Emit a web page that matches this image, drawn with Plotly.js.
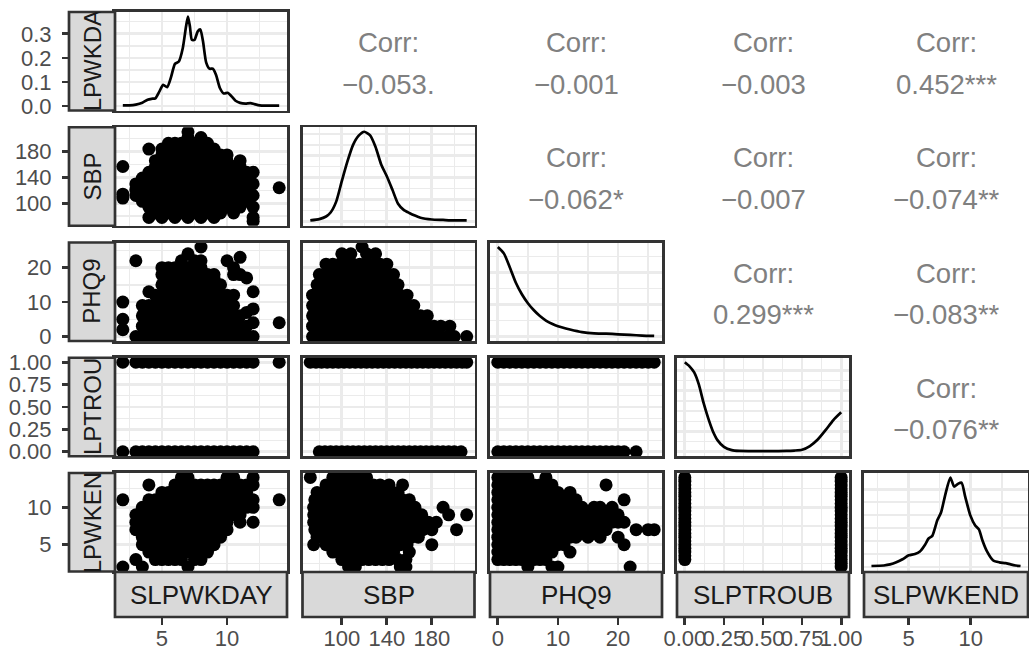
<!DOCTYPE html>
<html><head><meta charset="utf-8">
<script src="https://cdn.plot.ly/plotly-3.0.1.min.js"></script>
<style>html,body{margin:0;padding:0;background:#fff;overflow:hidden}#chart{width:1029px;height:651px}</style>
</head><body><div id="chart"></div><script>
// ---------- data ----------
const varNames = ['SLPWKDAY','SBP','PHQ9','SLPTROUB','SLPWKEND'];
const varMin = [2, 72, 0, 0, 2];
const varMax = [14, 211, 26, 1, 14];
const varMajor = [[5,10],[100,140,180],[0,10,20],[0,0.25,0.5,0.75,1],[5,10]];
const varMinor = [[2.5,7.5,12.5],[80,120,160,200],[5,15,25],[0.125,0.375,0.625,0.875],[2.5,7.5,12.5]];
const varTickText = [['5','10'],['100','140','180'],['0','10','20'],['0.00','0.25','0.50','0.75','1.00'],['5','10']];
const densRow1TickText = ['0.0','0.1','0.2','0.3'];

// diagonal densities
const densWkdayX = [2,2.5,3,3.5,3.9,4.2,4.5,4.8,5.1,5.4,5.7,6.0,6.3,6.6,6.85,7.0,7.15,7.3,7.5,7.75,7.95,8.15,8.4,8.65,8.9,9.15,9.45,9.75,10.05,10.35,10.65,11,11.4,11.8,12.1,12.5,13,13.5,14];
const densWkdayY = [0.003,0.003,0.006,0.014,0.026,0.03,0.032,0.06,0.088,0.078,0.12,0.175,0.185,0.24,0.33,0.372,0.33,0.275,0.275,0.31,0.318,0.27,0.18,0.155,0.155,0.13,0.075,0.052,0.055,0.04,0.022,0.013,0.01,0.012,0.008,0.003,0.002,0.002,0.002];
const densSbpX = [72,80,86,90,95,100,105,110,115,120,125,130,135,140,145,150,155,160,165,170,180,190,200,211];
const densSbpY = [0.0002,0.0005,0.0011,0.002,0.0045,0.0092,0.0137,0.0175,0.0196,0.0205,0.0197,0.017,0.013,0.0103,0.0072,0.004,0.0026,0.0019,0.0013,0.0008,0.0004,0.0003,0.0002,0.0002];
const densPhqX = [0,1,2,3,4,5,6,7,8,9,10,12,14,16,18,20,22,24,26];
const densPhqY = [0.14,0.13,0.108,0.084,0.066,0.052,0.041,0.032,0.025,0.02,0.016,0.011,0.007,0.005,0.0045,0.0035,0.0025,0.0015,0.001];
const densTroubX = [0,0.03,0.06,0.09,0.12,0.15,0.18,0.21,0.25,0.3,0.35,0.45,0.55,0.65,0.7,0.75,0.8,0.85,0.9,0.95,1];
const densTroubY = [2.2,2.1,1.95,1.65,1.2,0.82,0.5,0.28,0.12,0.04,0.02,0.015,0.015,0.02,0.03,0.05,0.14,0.3,0.53,0.78,0.97];
const densWkendX = [2,3,3.5,4,4.5,5,5.5,5.9,6.3,6.6,6.9,7.3,7.6,7.95,8.35,8.65,8.95,9.25,9.55,9.95,10.35,10.65,10.95,11.3,11.8,12.3,12.8,13.2,13.6,14];
const densWkendY = [0.004,0.006,0.01,0.018,0.03,0.045,0.05,0.06,0.085,0.11,0.12,0.18,0.21,0.28,0.345,0.31,0.32,0.325,0.27,0.2,0.16,0.145,0.1,0.06,0.025,0.018,0.015,0.01,0.006,0.004];
const densMajor = [[0,0.1,0.2,0.3],[0,0.005,0.01,0.015,0.02],[0,0.05,0.1],[0,0.5,1,1.5,2],[0,0.1,0.2,0.3]];
const densMinor = [[0.05,0.15,0.25,0.35],[0.0025,0.0075,0.0125,0.0175],[0.025,0.075,0.125],[0.25,0.75,1.25,1.75],[0.05,0.15,0.25]];

// correlations (upper panels)
const corrLabel = 'Corr:';
const corrRow1 = ['\u22120.053.','\u22120.001','\u22120.003','0.452***'];
const corrRow2 = ['\u22120.062*','\u22120.007','\u22120.074**'];
const corrRow3 = ['0.299***','\u22120.083**'];
const corrRow4 = ['\u22120.076**'];

// lower scatter panels: rows of [y, [x values]]
const sbpVsWkday = [[211,[7]],[202,[7,8]],[193,[5.5,6,6.5,7.5,8.5]],[184,[4,5,6,7,8,9]],[175,[5,5.5,6.5,7.5,8.5,9.5,10]],[166,[4.5,5,6,7,8,9,10,11]],[157,[2,4.5,5.5,6.5,7.5,8.5,9.5,10.5,11]],[148,[4,5,6,7,8,9,10,11,11.5,12]],[139,[3.5,4.5,5.5,6.5,7.5,8.5,9.5,10.5,11.5]],[130,[3,4,5,6,7,8,9,10,11,12]],[124,[14]],[121,[3,3.5,4.5,5.5,6.5,7.5,8.5,9.5,10.5,11.5]],[114,[2]],[112,[3,4,5,6,7,8,9,10,11,12]],[108,[2]],[103,[3.5,4.5,5.5,6.5,7.5,8.5,9.5,10.5,11.5]],[94,[4,5,6,7,8,9,10,11,12]],[85,[4.5,5.5,6.5,7.5,8.5,9.5,10.5]],[78,[4,5,6,7,8,9,12]],[72,[12]]];
const phqVsWkday = [[26,[8]],[24,[7]],[23,[11]],[22,[3,6.5,7.5,8,10]],[20,[5,5.5,6,6.5,7,7.5,8,10.5]],[18,[5,5.5,6,6.5,7,7.5,8,8.5,9,10.5,11]],[17,[9,11.5]],[15,[5,5.5,6,6.5,7,7.5,8,8.5,9,9.5]],[13,[4,12]],[12,[4.5,5,5.5,6,6.5,7,7.5,8,8.5,9,9.5,10,10.5]],[10,[2]],[9,[3.5,4,4.5,5,5.5,6,6.5,7,7.5,8,8.5,9,9.5,10,10.5]],[8,[12]],[7,[11.5]],[6,[3.5,4,4.5,5,5.5,6,6.5,7,7.5,8,8.5,9,9.5,10,10.5,11]],[5,[2]],[4,[12,14]],[3,[3.5,4,4.5,5,5.5,6,6.5,7,7.5,8,8.5,9,9.5,10,10.5,11,11.5]],[2,[2]],[0,[3,3.5,4,4.5,5,5.5,6,6.5,7,7.5,8,8.5,9,9.5,10,10.5,11,11.5,12]]];
const troubVsWkday = [[1,[2,3,3.5,4,4.5,5,5.5,6,6.5,7,7.5,8,8.5,9,9.5,10,10.5,11,11.5,12,14]],[0,[2,3,3.5,4,4.5,5,5.5,6,6.5,7,7.5,8,8.5,9,9.5,10,10.5,11,11.5,12]]];
const wkendVsWkday = [[14,[6.5,7,10,10.5,12]],[13,[4,6,6.5,7,7.5,8,8.5,9,9.5,10,10.5,11,11.5,12]],[12,[5,5.5,6,6.5,7,7.5,8,8.5,9,9.5,10,10.5,11,11.5]],[11,[2,4,4.5,5,5.5,6,6.5,7,7.5,8,8.5,9,9.5,10,10.5,11,11.5,12,14]],[10,[3.5,4,4.5,5,5.5,6,6.5,7,7.5,8,8.5,9,9.5,10,10.5,11,11.5,12]],[9,[3,3.5,4,4.5,5,5.5,6,6.5,7,7.5,8,8.5,9,9.5,10,10.5,11]],[8,[3,3.5,4,4.5,5,5.5,6,6.5,7,7.5,8,8.5,9,9.5,10,11,12]],[7,[3,3.5,4,4.5,5,5.5,6,6.5,7,7.5,8,8.5,9,9.5,10]],[6,[3.5,4,4.5,5,5.5,6,6.5,7,7.5,8,8.5,9,9.5]],[5,[3.5,4,4.5,5,5.5,6,6.5,7,7.5,8,8.5,9]],[4,[4,4.5,5,5.5,6,6.5,7,7.5,8,8.5]],[3,[3,4.5,5,5.5,6,6.5,7.5,8]],[2,[2,3.5,7]]];
const phqVsSbp = [[26,[118]],[24,[100,108,122,130]],[21,[86,92,98,104,110,116,122,128,134,140]],[18,[80,86,92,98,104,110,116,122,128,134,140,146]],[15,[78,84,90,96,102,108,114,120,126,132,138,144,150]],[12,[74,80,86,92,98,104,110,116,122,128,134,140,146,152,158]],[9,[74,80,86,92,98,104,110,116,122,128,134,140,146,152,158,164]],[6,[74,80,86,92,98,104,110,116,122,128,134,140,146,152,158,164,170,176]],[3,[74,80,86,92,98,104,110,116,122,128,134,140,146,152,158,164,170,176,182,188,196]],[0,[74,80,86,92,98,104,110,116,122,128,134,140,146,152,158,164,170,176,182,188,194,200,211]]];
const troubVsSbp = [[1,[72,77,82,87,92,97,102,107,112,117,122,127,132,137,142,147,152,157,162,167,172,177,182,187,192,197,202,207,211]],[0,[80,85,90,95,100,105,110,115,120,125,130,135,140,145,150,155,160,165,170,175,180,185,190,195,200,206]]];
const wkendVsSbp = [[14,[72,92,98,104,110,116,122]],[13,[86,92,98,104,110,116,122,128,134,142,154]],[12,[78,84,90,96,102,108,114,120,126,132,138,144,150]],[11,[76,82,88,94,100,106,112,118,124,130,136,142,148,154,160]],[10,[75,81,87,93,99,105,111,117,123,129,135,141,147,153,159,165,190]],[9,[75,81,87,93,99,105,111,117,123,129,135,141,147,153,159,165,171,195,211]],[8,[75,81,87,93,99,105,111,117,123,129,135,141,147,153,159,165,171,177,184]],[7,[76,82,88,94,100,106,112,118,124,130,136,142,148,154,160,166,172,180,202]],[6,[78,84,90,96,102,108,114,120,126,132,138,144,150,156,162,168]],[5,[75,86,92,98,104,110,116,122,128,134,140,146,152,158,180]],[4,[92,98,104,110,116,122,128,134,140,146,160]],[3,[100,106,112,118,124,130,136,142,150,157]],[2,[106,112,152,157]]];
const troubVsPhq = [[1,[0,1,2,3,4,5,6,7,8,9,10,11,12,13,14,15,16,17,18,19,20,21,22,23,24,25,26]],[0,[0,1,2,3,4,5,6,7,8,9,10,11,12,13,14,15,16,17,18,19,20,21,23]]];
const wkendVsPhq = [[14,[0,1,2,3,4,5,8]],[13,[0,1,2,3,4,5,6,7,9,18]],[12,[0,1,2,3,4,5,6,7,8,9,10,12]],[11,[0,1,2,3,4,5,6,7,8,9,10,11,12,13,21]],[10,[0,1,2,3,4,5,6,7,8,9,10,11,12,13,14,16,17,19]],[9,[0,1,2,3,4,5,6,7,8,9,10,11,12,13,14,15,16,18,20]],[8,[0,1,2,3,4,5,6,7,8,9,10,11,12,13,14,15,16,17,19,20,21]],[7,[0,1,2,3,4,5,6,7,8,9,10,11,12,13,14,15,16,18,23,25,26]],[6,[0,1,2,3,4,5,6,7,8,9,10,11,12,13,15,17,20]],[5,[0,1,2,3,4,5,6,7,8,9,10,11,21]],[4,[0,1,2,3,4,5,6,7,8,9,12]],[3,[0,1,2,3,4,5,6,7,8]],[2,[5,9,10,22]]];
const wkendVsTroub = [[14,[0,1]],[13.5,[0,1]],[13,[0,1]],[12.5,[0,1]],[12,[0,1]],[11.5,[0,1]],[11,[0,1]],[10.5,[0,1]],[10,[0,1]],[9.5,[0,1]],[9,[0,1]],[8.5,[0,1]],[8,[0,1]],[7.5,[0,1]],[7,[0,1]],[6.5,[0,1]],[6,[0,1]],[5.5,[0,1]],[5,[0,1]],[4.5,[0,1]],[4,[0,1]],[3.5,[0,1]],[3,[0,1]],[2.5,[1]],[2,[1]]];

// ---------- layout geometry ----------
const W = 1029, H = 651;
const colLeft = [115, 302.5, 490, 677, 864], colRight = [287, 474.5, 662, 849, 1028];
const rowTop = [12, 127.25, 242.5, 357.75, 473], rowH = 98.5;
const stripL = 69, stripR = 115, stripTop = 572, stripBot = 617;
const FONT = 'Liberation Sans, Arial, Helvetica, sans-serif';

const dens = [{x:densWkdayX,y:densWkdayY},{x:densSbpX,y:densSbpY},{x:densPhqX,y:densPhqY},{x:densTroubX,y:densTroubY},{x:densWkendX,y:densWkendY}];
const scatterRows = {'1_0':sbpVsWkday,'2_0':phqVsWkday,'3_0':troubVsWkday,'4_0':wkendVsWkday,'2_1':phqVsSbp,'3_1':troubVsSbp,'4_1':wkendVsSbp,'3_2':troubVsPhq,'4_2':wkendVsPhq,'4_3':wkendVsTroub};
const corrRows = [corrRow1, corrRow2, corrRow3, corrRow4];

function xd(c){return [colLeft[c]/W, colRight[c]/W];}
function yd(r){return [1-(rowTop[r]+rowH)/H, 1-rowTop[r]/H];}
function vr(i){const s=varMax[i]-varMin[i];return [varMin[i]-0.05*s, varMax[i]+0.05*s];}
function flat(rows){const x=[],y=[];rows.forEach(([yv,xs])=>xs.forEach(xv=>{x.push(xv);y.push(yv);}));return {x,y};}

const traces = [];
const layout = {width:W,height:H,margin:{l:0,r:0,t:0,b:0},paper_bgcolor:'#ffffff',plot_bgcolor:'rgba(0,0,0,0)',
  showlegend:false,hovermode:false,shapes:[],annotations:[]};
const gridBase = {showgrid:true,gridcolor:'#EBEBEB',gridwidth:2.7,zeroline:false,showline:true,mirror:true,
  linecolor:'#333333',linewidth:2.7,ticks:'',showticklabels:false,tickmode:'array',fixedrange:true};
function minorOf(v){return {tickvals:v,showgrid:true,gridcolor:'#EBEBEB',gridwidth:1.35,ticks:''};}

let k = 0; const pid = {};
for (let r=0;r<5;r++) for (let c=0;c<=r;c++) {
  k++; pid[r+'_'+c]=k;
  const xn = k===1?'xaxis':'xaxis'+k, yn = k===1?'yaxis':'yaxis'+k;
  const xs = k===1?'x':'x'+k, ys = k===1?'y':'y'+k;
  layout[xn] = Object.assign({}, gridBase, {domain:xd(c), range:vr(c), tickvals:varMajor[c], minor:minorOf(varMinor[c]), anchor:ys});
  if (r===c) {
    const d = dens[c]; const m = Math.max(...d.y);
    layout[yn] = Object.assign({}, gridBase, {domain:yd(r), range:[-0.05*m,1.05*m], tickvals:densMajor[c], minor:minorOf(densMinor[c]), anchor:xs});
    traces.push({type:'scatter',mode:'lines',x:d.x,y:d.y,xaxis:xs,yaxis:ys,line:{color:'#000000',width:2.7,shape:'spline',smoothing:0.6},hoverinfo:'skip'});
  } else {
    layout[yn] = Object.assign({}, gridBase, {domain:yd(r), range:vr(r), tickvals:varMajor[r], minor:minorOf(varMinor[r]), anchor:xs});
    const p = flat(scatterRows[r+'_'+c]);
    traces.push({type:'scatter',mode:'markers',x:p.x,y:p.y,xaxis:xs,yaxis:ys,marker:{size:13,color:'#000000',line:{width:0}},cliponaxis:true,hoverinfo:'skip'});
  }
}
// outer tick axes (left, beyond the strips; bottom, below the strips)
const tickStyle = {showgrid:false,zeroline:false,showline:false,ticks:'outside',ticklen:7,tickwidth:2.7,tickcolor:'#333333',
  tickfont:{family:FONT,size:22,color:'#4D4D4D'},tickmode:'array',fixedrange:true,tickangle:0};
for (let r=0;r<5;r++) {
  const base = pid[r+'_0'], baseY = base===1?'y':'y'+base, baseX = base===1?'x':'x'+base;
  const n = 16+r;
  const rng = r===0 ? layout.yaxis.range : vr(r);
  layout['yaxis'+n] = Object.assign({}, tickStyle, {overlaying:baseY, anchor:'free', position:stripL/W, side:'left', range:rng,
    tickvals: r===0?densMajor[0]:varMajor[r], ticktext: r===0?densRow1TickText:varTickText[r], ticklabelstandoff:6});
  traces.push({type:'scatter',mode:'markers',x:[],y:[],xaxis:baseX,yaxis:'y'+n,hoverinfo:'skip'});
}
for (let c=0;c<5;c++) {
  const base = pid['4_'+c], baseY = base===1?'y':'y'+base, baseX = 'x'+base;
  const n = 16+c;
  layout['xaxis'+n] = Object.assign({}, tickStyle, {overlaying:baseX, anchor:'free', position:1-stripBot/H, side:'bottom', range:vr(c),
    tickvals:varMajor[c], ticktext:varTickText[c], ticklabelstandoff:-5});
  traces.push({type:'scatter',mode:'markers',x:[],y:[],xaxis:'x'+n,yaxis:baseY,hoverinfo:'skip'});
}
// strips
const stripAnnIdx = [];
for (let r=0;r<5;r++) {
  layout.shapes.push({type:'rect',xref:'paper',yref:'paper',x0:stripL/W,x1:stripR/W,y0:1-(rowTop[r]+rowH)/H,y1:1-rowTop[r]/H,
    fillcolor:'#D9D9D9',line:{color:'#333333',width:2.7},layer:'above'});
  stripAnnIdx.push(layout.annotations.length);
  layout.annotations.push({xref:'paper',yref:'paper',x:(stripL+stripR)/2/W,y:1-(rowTop[r]+rowH/2)/H,text:varNames[r],textangle:-90,
    showarrow:false,xanchor:'center',yanchor:'middle',font:{family:FONT,size:24,color:'#1A1A1A'}});
}
for (let c=0;c<5;c++) {
  layout.shapes.push({type:'rect',xref:'paper',yref:'paper',x0:colLeft[c]/W,x1:colRight[c]/W,y0:1-stripBot/H,y1:1-stripTop/H,
    fillcolor:'#D9D9D9',line:{color:'#333333',width:2.7},layer:'above'});
  layout.annotations.push({xref:'paper',yref:'paper',x:(colLeft[c]+colRight[c])/2/W,y:1-(stripTop+stripBot)/2/H,text:varNames[c],
    showarrow:false,xanchor:'center',yanchor:'middle',font:{family:FONT,size:26,color:'#1A1A1A'}});
}
// correlation text
for (let r=0;r<4;r++) corrRows[r].forEach((txt,i)=>{
  const c = r+1+i; const cx = (colLeft[c]+colRight[c])/2/W;
  layout.annotations.push({xref:'paper',yref:'paper',x:cx,y:1-(rowTop[r]+30.5)/H,text:corrLabel,showarrow:false,xanchor:'center',yanchor:'middle',
    font:{family:FONT,size:27.5,color:'#808080'}});
  layout.annotations.push({xref:'paper',yref:'paper',x:cx,y:1-(rowTop[r]+72)/H,text:txt,showarrow:false,xanchor:'center',yanchor:'middle',
    font:{family:FONT,size:27.5,color:'#808080'}});
});

Plotly.newPlot('chart', traces, layout, {staticPlot:true,displayModeBar:false}).then(gd=>{
  const svg = gd.querySelector('svg.main-svg');
  const ns = 'http://www.w3.org/2000/svg';
  let defs = svg.querySelector('defs');
  if(!defs){defs=document.createElementNS(ns,'defs');svg.insertBefore(defs,svg.firstChild);}
  stripAnnIdx.forEach((ai,r)=>{
    const cp = document.createElementNS(ns,'clipPath'); cp.setAttribute('id','stripclip'+r);
    const rc = document.createElementNS(ns,'rect');
    rc.setAttribute('x',stripL); rc.setAttribute('y',rowTop[r]); rc.setAttribute('width',stripR-stripL); rc.setAttribute('height',rowH);
    cp.appendChild(rc); defs.appendChild(cp);
    const g = gd.querySelector('g.annotation[data-index="'+ai+'"]');
    if (g) g.setAttribute('clip-path','url(#stripclip'+r+')');
  });
});
</script></body></html>
